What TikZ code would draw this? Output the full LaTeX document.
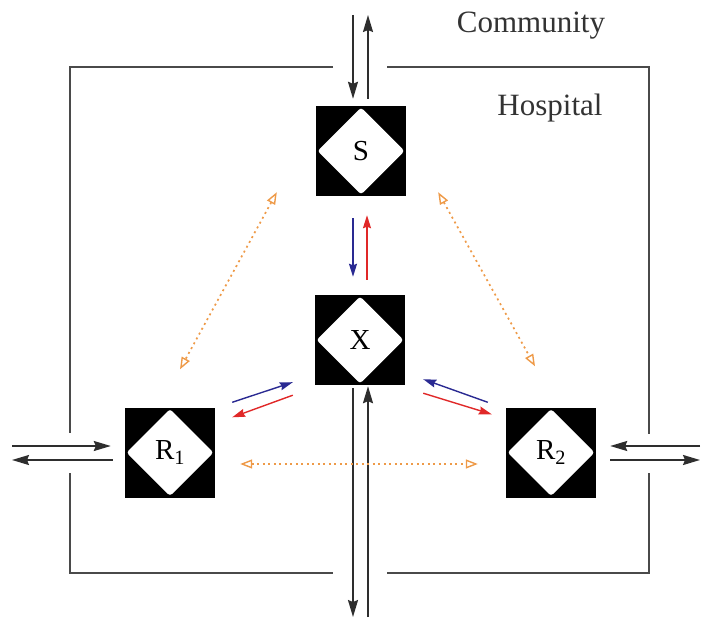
\documentclass[tikz,border=0pt]{standalone}
\usepackage{fontspec}
\setmainfont{Liberation Serif}
\usetikzlibrary{arrows.meta,calc}
\definecolor{boxgray}{HTML}{4A4A4A}
\definecolor{arrgray}{HTML}{2E2E2E}
\definecolor{myblue}{HTML}{2A2A92}
\definecolor{myred}{HTML}{E02828}
\definecolor{myorange}{HTML}{EE9A48}
\begin{document}
\begin{tikzpicture}[x=1pt,y=-1pt,
  blk/.style={fill=black, minimum size=90pt, inner sep=0pt,
    font=\fontsize{29}{32}\selectfont,
    path picture={\fill[white, rounded corners=3pt]
      ([yshift=-1.5pt]path picture bounding box.north) --
      ([xshift=1.5pt]path picture bounding box.west) --
      ([yshift=1.5pt]path picture bounding box.south) --
      ([xshift=-1.5pt]path picture bounding box.east) -- cycle;}},
  lbl/.style={font=\fontsize{31}{36}\selectfont, text=black!80, anchor=base, inner sep=0pt},
  wall/.style={draw=boxgray, line width=1.8pt},
  garr/.style={draw=arrgray, line width=1.8pt, -{Stealth[length=17pt,width=10pt,inset=2pt]}},
  barr/.style={draw=myblue, line width=1.4pt, -{Stealth[length=13pt,width=8pt,inset=1.5pt]}},
  rarr/.style={draw=myred, line width=1.4pt, -{Stealth[length=13pt,width=8pt,inset=1.5pt]}},
  oarr/.style={draw=myorange, line width=1.7pt, dash pattern=on 2pt off 3.5pt,
    {Triangle[open,length=12pt,width=9pt,line width=1.4pt]}-{Triangle[open,length=12pt,width=9pt,line width=1.4pt]}}
]
\useasboundingbox (0,0) rectangle (701,618);

% hospital walls
\draw[wall] (333,67) -- (70,67) -- (70,433);
\draw[wall] (70,473) -- (70,573) -- (333,573);
\draw[wall] (387,67) -- (649,67) -- (649,434);
\draw[wall] (649,473) -- (649,573) -- (387,573);

% labels
\node[lbl] (comm) at (531,33) {Community};
\node[lbl] (hosp) at (550,115) {Hospital};

% compartments
\node[blk] (S) at (361,151) {S};
\node[blk] (X) at (360,340) {X};
\node[blk] (R1) at (170,452.5) {R\textsubscript{1}};
\node[blk] (R2) at (551,452.5) {R\textsubscript{2}};

% free ends
\coordinate (cT1) at (353,15);
\coordinate (cT2) at (368,15);
\coordinate (cB1) at (353,617);
\coordinate (cB2) at (368,617);
\coordinate (cL1) at (12,446);
\coordinate (cL2) at (12,460);
\coordinate (cR1) at (700,446);
\coordinate (cR2) at (700,460);

% community exchanges
\draw[garr] (cT1) -- ($(S.north)+(-8,-7)$);
\draw[garr] ($(S.north)+(7,-7)$) -- (cT2);
\draw[garr] ($(X.south)+(-7,3)$) -- (cB1);
\draw[garr] (cB2) -- ($(X.south)+(8,1)$);
\draw[garr] (cL1) -- ($(R1.west)+(-14,-6.5)$);
\draw[garr] ($(R1.west)+(-12,7.5)$) -- (cL2);
\draw[garr] (cR1) -- ($(R2.east)+(14,-6.5)$);
\draw[garr] ($(R2.east)+(14,7.5)$) -- (cR2);

% S <-> X
\draw[barr] ($(S.south)+(-8,22)$) -- ($(X.north)+(-7,-18)$);
\draw[rarr] ($(X.north)+(7,-15)$) -- ($(S.south)+(6,19)$);

% R1 <-> X
\draw[barr] ($(R1.north east)+(17,-5)$) -- ($(X.south west)+(-22,-3)$);
\draw[rarr] ($(X.south west)+(-22,10)$) -- ($(R1.north east)+(17,10)$);

% R2 <-> X
\draw[barr] ($(R2.north west)+(-18,-5)$) -- ($(X.south east)+(18,-6)$);
\draw[rarr] ($(X.south east)+(18,8)$) -- ($(R2.north west)+(-14,7)$);

% dotted transitions
\draw[oarr] ($(S.south west)+(-39,-4)$) -- ($(R1.north)+(10,-38)$);
\draw[oarr] ($(S.south east)+(32,-4)$) -- ($(R2.north)+(-16,-41)$);
\draw[oarr] ($(R1.east)+(25,11.5)$) -- ($(R2.west)+(-28,11.5)$);
\end{tikzpicture}
\end{document}
